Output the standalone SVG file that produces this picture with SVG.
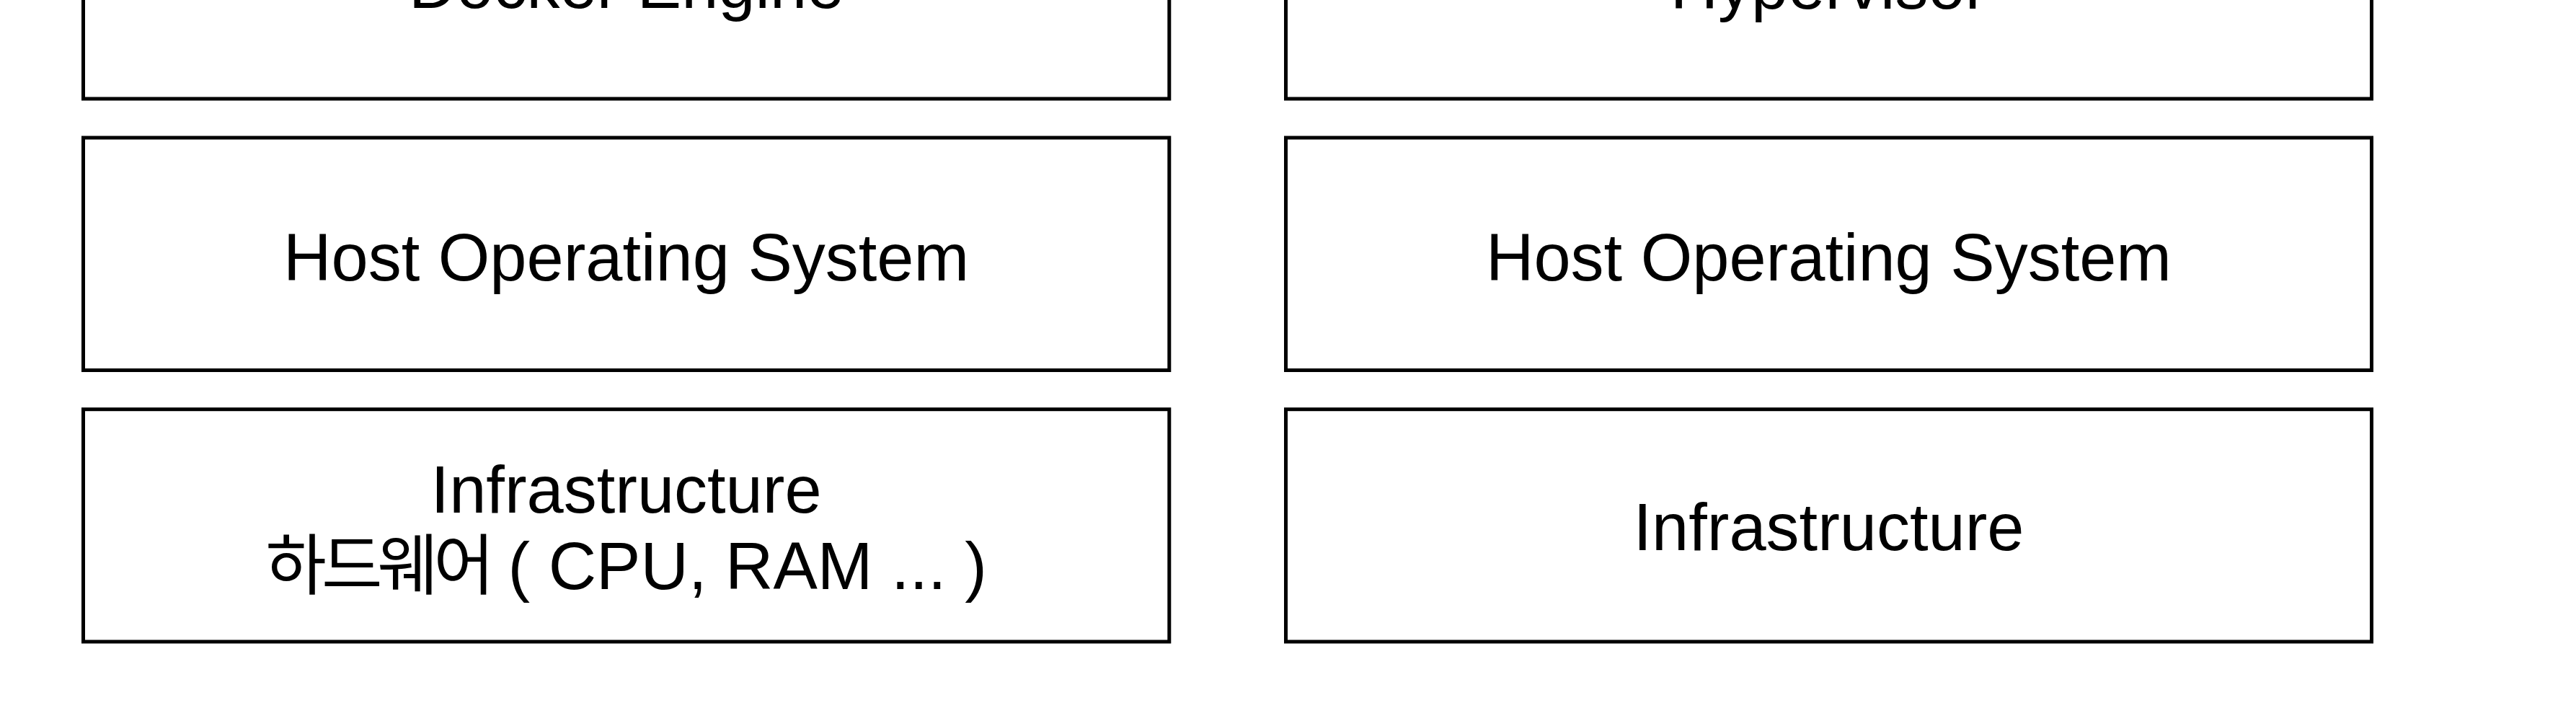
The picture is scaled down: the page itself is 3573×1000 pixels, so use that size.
<svg xmlns="http://www.w3.org/2000/svg" width="3573" height="1000" viewBox="0 0 3573 1000">
<style>
.box{fill:#ffffff;stroke:#000000;stroke-width:5}
.lbl{font-family:"Liberation Sans","Noto Sans CJK KR",Arial,sans-serif;font-size:92px;fill:#000000;text-anchor:middle}
</style>
<rect x="0" y="0" width="3573" height="1000" fill="#ffffff"/>
<g id="connectors"/>
<g id="docker-engine">
<rect class="box" x="115.5" y="-185.5" width="1506.3" height="322.5"/>
<text class="lbl" x="868.6" y="11">Docker Engine</text>
</g>
<g id="hypervisor">
<rect class="box" x="1783.5" y="-185.5" width="1506" height="322.5"/>
<text class="lbl" x="2536.5" y="11.5">Hypervisor</text>
</g>
<g id="host-os-left">
<rect class="box" x="115.5" y="191" width="1506.3" height="322.5"/>
<text class="lbl" x="868.6" y="389">Host Operating System</text>
</g>
<g id="host-os-right">
<rect class="box" x="1783.5" y="191" width="1506" height="322.5"/>
<text class="lbl" x="2536.5" y="389">Host Operating System</text>
</g>
<g id="infra-left">
<rect class="box" x="115.5" y="567.7" width="1506.3" height="322.3"/>
<text class="lbl" x="868.6" y="711">Infrastructure</text>
<text class="lbl" x="868.6" y="817"><tspan letter-spacing="-7">하드웨어</tspan> ( CPU, RAM ... )</text>
</g>
<g id="infra-right">
<rect class="box" x="1783.5" y="567.7" width="1506" height="322.3"/>
<text class="lbl" x="2536.5" y="763">Infrastructure</text>
</g>
</svg>
